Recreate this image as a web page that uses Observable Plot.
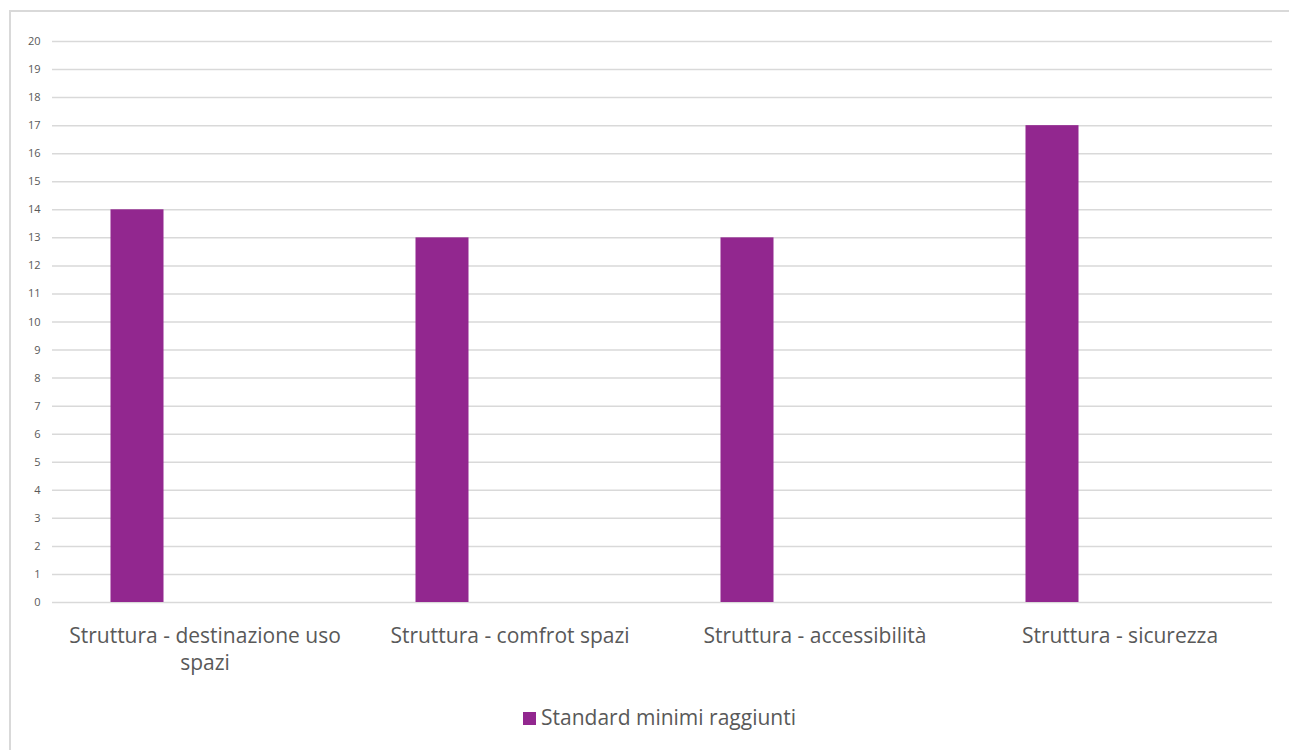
<!DOCTYPE html>
<html>
<head>
<meta charset="utf-8">
<script src="https://cdn.jsdelivr.net/npm/d3@7"></script>
<script src="https://cdn.jsdelivr.net/npm/@observablehq/plot@0.6"></script>
<style>
  html, body { margin: 0; padding: 0; background: #fff; overflow: hidden; }
  #wrap { position: relative; width: 1289px; height: 750px; font-family: "Open Sans", sans-serif; }
  #frame { position: absolute; left: 9px; top: 10px; width: 1300px; height: 800px; border: 2px solid #d9d9d9; box-sizing: border-box; }
  #chart { position: absolute; left: 0; top: 0; }
  #legend { position: absolute; top: 703px; left: 0; width: 1289px; text-align: center; font-size: 21px; color: #595959; padding-left: 30px; box-sizing: border-box; }
  #legend .sw { display: inline-block; width: 13px; height: 13px; background: #92278f; margin-right: 5px; vertical-align: 0px; }
</style>
</head>
<body>
<div id="wrap">
  <div id="frame"></div>
  <div id="chart"></div>
  <div id="legend"><span class="sw"></span>Standard minimi raggiunti</div>
</div>
<script>
const categories = [
  "Struttura - destinazione uso spazi",
  "Struttura - comfrot spazi",
  "Struttura - accessibilità",
  "Struttura - sicurezza"
];
const categoryLabels = [
  "Struttura - destinazione uso\nspazi",
  "Struttura - comfrot spazi",
  "Struttura - accessibilità",
  "Struttura - sicurezza"
];
const values = [14, 13, 13, 17];
const seriesName = "Standard minimi raggiunti";
const yTicks = d3.range(0, 21);

const data = categories.map((c, i) => ({category: c, value: values[i]}));
const labelMap = new Map(categories.map((c, i) => [c, categoryLabels[i]]));

const chart = Plot.plot({
  width: 1289,
  height: 690,
  marginLeft: 52,
  marginRight: 17,
  marginTop: 41,
  marginBottom: 88,
  style: { fontFamily: "'Open Sans', sans-serif", background: "transparent" },
  x: { domain: categories, padding: 0, label: null },
  y: { domain: [0, 20], label: null },
  marks: [
    Plot.gridY(yTicks, { stroke: "#d9d9d9", strokeOpacity: 1, strokeWidth: 1.5 }),
    Plot.barY(data, { x: "category", y: "value", fill: "#92278f", insetLeft: 58.5, insetRight: 193.5 }),
    Plot.axisY(yTicks, { tickSize: 0, tickPadding: 12, fontSize: 11, fill: "#595959", label: null }),
    Plot.axisX({ tickSize: 0, tickPadding: 21, fontSize: 21, fill: "#595959", lineHeight: 1.29,
      tickFormat: d => labelMap.get(d), label: null })
  ]
});
document.getElementById("chart").appendChild(chart);
</script>
</body>
</html>
